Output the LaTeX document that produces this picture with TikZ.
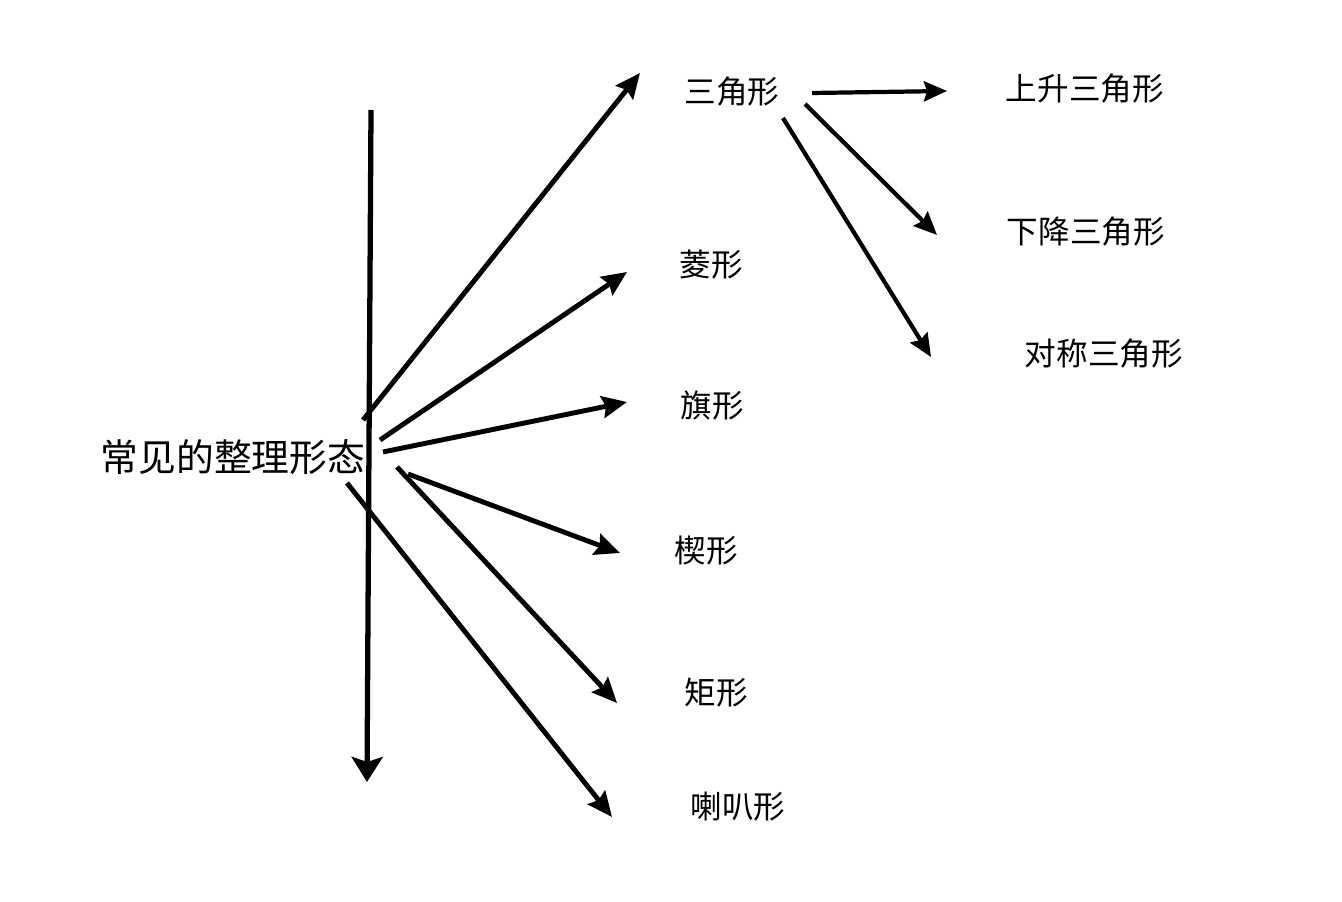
\documentclass[tikz,border=0pt]{standalone}
\usepackage{fontspec}
\setmainfont{Noto Sans CJK SC}
\usetikzlibrary{arrows.meta}
\usetikzlibrary{positioning}

\tikzset{
  roottxt/.style={font=\fontsize{21.5pt}{26pt}\selectfont, inner sep=0pt},
  formtxt/.style={font=\fontsize{18pt}{22pt}\selectfont, inner sep=0pt},
  arr/.style={line width=2.8pt, -{Stealth[length=0.5cm,width=0.44cm,inset=0.07cm]}},
  subarr/.style={line width=2.4pt, -{Stealth[length=0.46cm,width=0.4cm,inset=0.06cm]}},
  downarr/.style={line width=3pt, -{Stealth[length=0.5cm,width=0.62cm,inset=0.1cm]}}
}

\begin{document}
\begin{tikzpicture}[x=0.02cm,y=-0.02cm]
    \useasboundingbox (0,0) rectangle (1342,902);
    \node[roottxt] (root) at (233,457) {常见的整理形态};
    \node[formtxt] (tri) at (732,92) {三角形};
    \node[formtxt] (ling) at (711,265) {菱形};
    \node[formtxt] (qi) at (712,406) {旗形};
    \node[formtxt] (xie) at (706,551) {楔形};
    \node[formtxt] (ju) at (716,693) {矩形};
    \node[formtxt] (laba) at (738,807) {喇叭形};
    \node[formtxt] (up) at (1085,89) {上升三角形};
    \node[formtxt] (down) at (1086,232) {下降三角形};
    \node[formtxt] (sym) at (1104,354) {对称三角形};
    % ends of the connectors
    \coordinate (v-top) at (371,110);
    \coordinate (v-bot) at (367,782);
    \coordinate (tri-out) at (363,420);
    \coordinate (tri-in) at (640,73);
    \coordinate (ling-out) at (380,440);
    \coordinate (ling-in) at (627,272);
    \coordinate (qi-out) at (383,452);
    \coordinate (qi-in) at (627,402);
    \coordinate (xie-out) at (408,474);
    \coordinate (xie-in) at (620,553);
    \coordinate (ju-out) at (397,467);
    \coordinate (ju-in) at (617,703);
    \coordinate (laba-out) at (347,483);
    \coordinate (laba-in) at (612,817);
    \coordinate (up-out) at (812,93);
    \coordinate (up-in) at (947,91);
    \coordinate (down-out) at (805,104);
    \coordinate (down-in) at (937,235);
    \coordinate (sym-out) at (783,118);
    \coordinate (sym-in) at (931,357);
    \draw[downarr] (v-top) -- (v-bot);
    \draw[arr] (tri-out) -- (tri-in);
    \draw[arr] (ling-out) -- (ling-in);
    \draw[arr] (qi-out) -- (qi-in);
    \draw[arr] (xie-out) -- (xie-in);
    \draw[arr] (ju-out) -- (ju-in);
    \draw[arr] (laba-out) -- (laba-in);
    \draw[subarr] (up-out) -- (up-in);
    \draw[subarr] (down-out) -- (down-in);
    \draw[subarr] (sym-out) -- (sym-in);
\end{tikzpicture}
\end{document}
